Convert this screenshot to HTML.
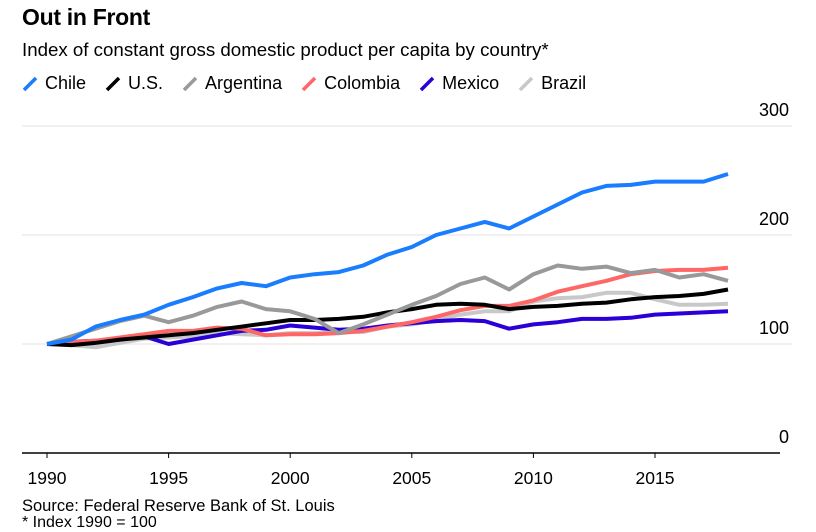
<!DOCTYPE html>
<html><head><meta charset="utf-8">
<style>
body{margin:0;background:#fff;font-family:"Liberation Sans",sans-serif;}
#wrap{position:relative;width:816px;height:532px;overflow:hidden;}
.t{position:absolute;white-space:nowrap;}
</style></head><body>
<div id="wrap">
<div class="t" style="left:22px;top:4px;font-size:23px;font-weight:bold;color:#000;letter-spacing:-0.3px">Out in Front</div>
<div class="t" style="left:22px;top:39px;font-size:18.7px;color:#000">Index of constant gross domestic product per capita by country*</div>
<div id="legend" class="t" style="left:22px;top:73px;font-size:18px;color:#000"></div>
<svg id="chart" width="816" height="532" style="position:absolute;left:0;top:0"></svg>
<div class="t" style="left:22px;top:497px;font-size:16.5px;color:#000">Source: Federal Reserve Bank of St. Louis</div>
<div class="t" style="left:22px;top:514px;font-size:16px;color:#000">* Index 1990 = 100</div>
</div>
<script>
const years=[1990,1991,1992,1993,1994,1995,1996,1997,1998,1999,2000,2001,2002,2003,2004,2005,2006,2007,2008,2009,2010,2011,2012,2013,2014,2015,2016,2017,2018];
const chile=[100,104,116,122,127,136,143,151,156,153,161,164,166,172,182,189,200,206,212,206,217,228,239,245,246,249,249,249,256];
const us=[100,99,101,104,106,108,110,113,116,119,122,122,123,125,129,132,136,137,136,132,134,135,137,138,141,143,144,146,150];
const argentina=[100,107,114,121,126,120,126,134,139,132,130,123,110,118,127,136,144,155,161,150,164,172,169,171,165,168,161,164,158];
const colombia=[100,102,103,106,109,112,112,115,114,108,109,109,110,112,116,120,125,131,135,135,140,148,153,158,164,167,168,168,170];
const mexico=[100,102,103,104,107,100,104,108,112,113,117,115,113,114,117,119,121,122,121,114,118,120,123,123,124,127,128,129,130];
const brazil=[100,99,97,101,105,106,107,110,109,108,110,110,111,111,116,118,122,127,130,130,139,142,143,147,147,141,136,136,137];
const yTicks=[0,100,200,300];
const xTicks=[1990,1995,2000,2005,2010,2015];
const seriesNames=["Chile","U.S.","Argentina","Colombia","Mexico","Brazil"];
const seriesColors=["#1a7cff","#000000","#999999","#ff6666","#2a00d6","#c8c8c8"];
const seriesData=[chile,us,argentina,colombia,mexico,brazil];
const drawOrder=[5,4,3,1,2,0];

const NS="http://www.w3.org/2000/svg";
const svg=document.getElementById('chart');
const x=v=>47+(v-1990)*24.32;
const y=v=>453-v*1.09;
function mk(tag,attrs){const e=document.createElementNS(NS,tag);for(const k in attrs)e.setAttribute(k,attrs[k]);svg.appendChild(e);return e;}

yTicks.forEach(t=>{
  if(t>0){const g=mk('line',{x1:22,x2:792,y1:y(t),y2:y(t),stroke:'#ececec','stroke-width':1.5});
  
  }
  const l=mk('text',{x:789,y:y(t)-10,'text-anchor':'end','font-size':18,fill:'#000','font-family':'Liberation Sans, sans-serif'});
  l.textContent=t;
  
  
});
const ax=mk('line',{x1:22,x2:780,y1:453,y2:453,stroke:'#000','stroke-width':1.5});


xTicks.forEach(t=>{
  const tk=mk('line',{x1:x(t),x2:x(t),y1:453,y2:458,stroke:'#000','stroke-width':1});
  
  
  const l=mk('text',{x:x(t),y:484,'text-anchor':'middle','font-size':17.5,fill:'#000','font-family':'Liberation Sans, sans-serif'});
  l.textContent=t;
  
  
});
drawOrder.forEach(i=>{
  const d=seriesData[i].map((v,j)=>(j?'L':'M')+x(years[j]).toFixed(1)+','+y(v).toFixed(1)).join(' ');
  const p=mk('path',{d:d,fill:'none',stroke:seriesColors[i],'stroke-width':4,'stroke-linejoin':'round'});
  
  
});
const lg=document.getElementById('legend');
seriesNames.forEach((n,i)=>{
  const s=document.createElement('span');
  s.style.cssText='display:inline-flex;align-items:center;margin-right:19px';
  s.innerHTML='<svg width="16" height="16" style="margin-right:7px"><line x1="2" y1="14" x2="14" y2="2" stroke="'+seriesColors[i]+'" stroke-width="3.5"/></svg>'+n;
  
  
  lg.appendChild(s);
});
</script>
</body></html>
